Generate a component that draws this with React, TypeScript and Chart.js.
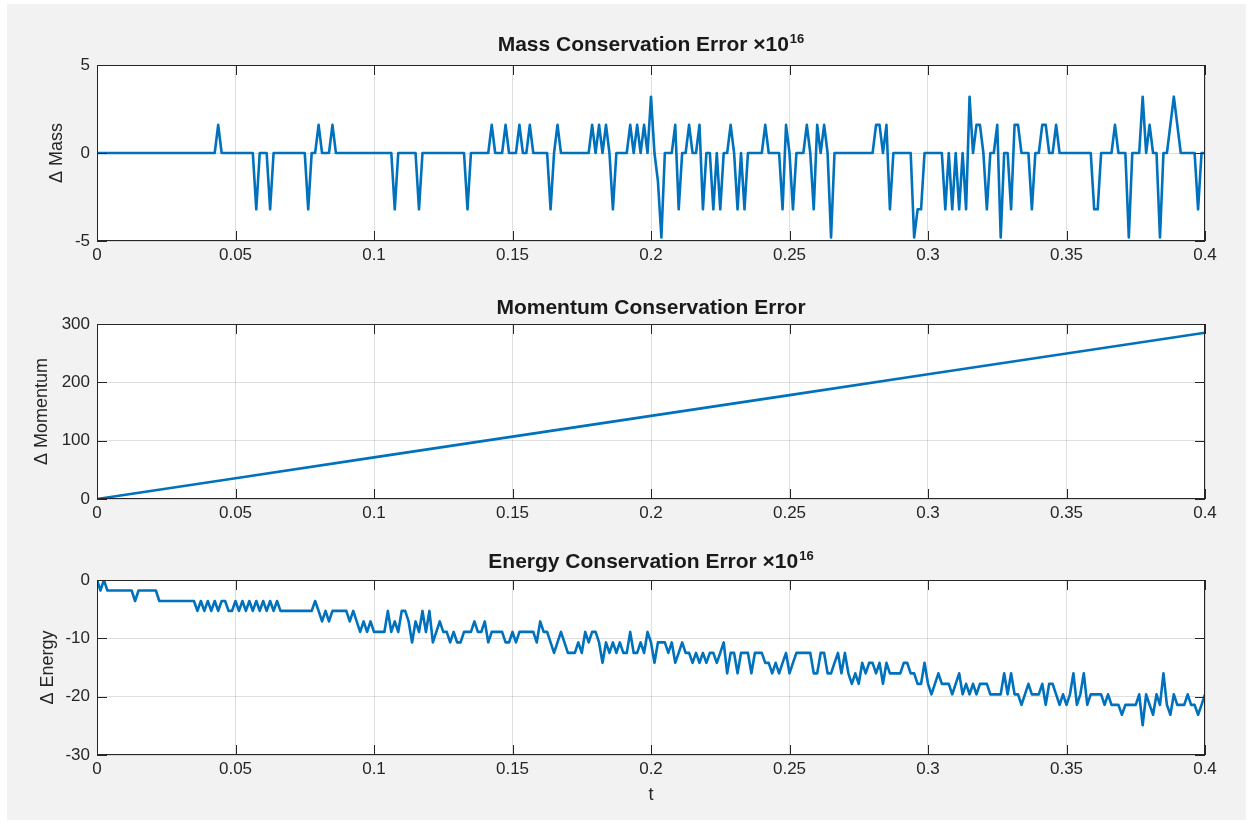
import React, { useEffect, useRef } from 'react';
import { Chart, registerables } from 'chart.js';

Chart.register(...registerables);

// ---------- data ----------
const timeStep = 0.00125; // sampling interval of the series (t = 0 … 0.4)

const massValues = [
  0, 0, 0, 0, 0, 0, 0, 0, 0, 0,
  0, 0, 0, 0, 0, 0, 0, 0, 0, 0,
  0, 0, 0, 0, 0, 0, 0, 0, 0, 0,
  0, 0, 0, 0, 0, 1.6, 0, 0, 0, 0,
  0, 0, 0, 0, 0, 0, -3.2, 0, 0, 0,
  -3.2, 0, 0, 0, 0, 0, 0, 0, 0, 0,
  0, -3.2, 0, 0, 1.6, 0, 0, 0, 1.6, 0,
  0, 0, 0, 0, 0, 0, 0, 0, 0, 0,
  0, 0, 0, 0, 0, 0, -3.2, 0, 0, 0,
  0, 0, 0, -3.2, 0, 0, 0, 0, 0, 0,
  0, 0, 0, 0, 0, 0, 0, -3.2, 0, 0,
  0, 0, 0, 0, 1.6, 0, 0, 0, 1.6, 0,
  0, 0, 1.6, 0, 0, 1.6, 0, 0, 0, 0,
  0, -3.2, 0, 1.6, 0, 0, 0, 0, 0, 0,
  0, 0, 0, 1.6, 0, 1.6, 0, 1.6, 0, -3.2,
  0, 0, 0, 0, 1.6, 0, 1.6, 0, 1.6, 0,
  3.2, 0, -1.6, -4.8, 0, 0, 0, 1.6, -3.2, 0,
  0, 1.6, 0, 0, 1.6, -3.2, 0, 0, -3.2, 0,
  -3.2, 0, 0, 1.6, 0, -3.2, 0, -3.2, 0, 0,
  0, 0, 0, 1.6, 0, 0, 0, 0, -3.2, 1.6,
  0, -3.2, 0, 0, 0, 1.6, 0, -3.2, 1.6, 0,
  1.6, 0, -4.8, 0, 0, 0, 0, 0, 0, 0,
  0, 0, 0, 0, 0, 1.6, 1.6, 0, 1.6, -3.2,
  0, 0, 0, 0, 0, 0, -4.8, -3.2, -3.2, 0,
  0, 0, 0, 0, 0, -3.2, 0, -3.2, 0, -3.2,
  0, -3.2, 3.2, 0, 1.6, 1.6, 0, -3.2, 0, 0,
  1.6, -4.8, 0, 0, -3.2, 1.6, 1.6, 0, 0, 0,
  -3.2, 0, 0, 1.6, 1.6, 0, 0, 1.6, 0, 0,
  0, 0, 0, 0, 0, 0, 0, 0, -3.2, -3.2,
  0, 0, 0, 0, 1.6, 0, 0, 0, -4.8, 0,
  0, 0, 3.2, 0, 1.6, 0, 0, -4.8, 0, 0,
  1.6, 3.2, 1.6, 0, 0, 0, 0, 0, -3.2, 0,
  0,
];

const momentumTimes = [0, 0.05, 0.1, 0.15, 0.2, 0.25, 0.3, 0.35, 0.4];
const momentumValues = [0, 35.6, 71.3, 106.9, 142.5, 178.1, 213.8, 249.4, 285];

const energyValues = [
  0, -1.8, 0, -1.8, -1.8, -1.8, -1.8, -1.8, -1.8, -1.8,
  -1.8, -3.6, -1.8, -1.8, -1.8, -1.8, -1.8, -1.8, -3.6, -3.6,
  -3.6, -3.6, -3.6, -3.6, -3.6, -3.6, -3.6, -3.6, -3.6, -5.3,
  -3.6, -5.3, -3.6, -5.3, -3.6, -5.3, -3.6, -3.6, -5.3, -5.3,
  -3.6, -5.3, -3.6, -5.3, -3.6, -5.3, -3.6, -5.3, -3.6, -5.3,
  -3.6, -5.3, -3.6, -5.3, -5.3, -5.3, -5.3, -5.3, -5.3, -5.3,
  -5.3, -5.3, -5.3, -3.6, -5.3, -7.1, -5.3, -7.1, -5.3, -5.3,
  -5.3, -5.3, -5.3, -7.1, -5.3, -7.1, -8.9, -7.1, -8.9, -7.1,
  -8.9, -8.9, -8.9, -8.9, -5.3, -8.9, -7.1, -8.9, -5.3, -5.3,
  -7.1, -10.7, -7.1, -8.9, -5.3, -8.9, -5.3, -10.7, -8.9, -7.1,
  -8.9, -8.9, -10.7, -8.9, -10.7, -10.7, -8.9, -8.9, -8.9, -7.1,
  -8.9, -8.9, -7.1, -10.7, -8.9, -8.9, -8.9, -8.9, -10.7, -10.7,
  -8.9, -10.7, -8.9, -8.9, -8.9, -8.9, -8.9, -10.7, -7.1, -8.9,
  -8.9, -10.7, -12.5, -10.7, -8.9, -10.7, -12.5, -12.5, -12.5, -10.7,
  -12.5, -8.9, -10.7, -8.9, -8.9, -10.7, -14.2, -10.7, -12.5, -10.7,
  -12.5, -10.7, -12.5, -12.5, -8.9, -12.5, -12.5, -10.7, -12.5, -8.9,
  -10.7, -14.2, -10.7, -10.7, -10.7, -12.5, -10.7, -14.2, -12.5, -10.7,
  -12.5, -12.5, -14.2, -12.5, -14.2, -12.5, -14.2, -12.5, -12.5, -14.2,
  -12.5, -10.7, -16, -12.5, -12.5, -16, -12.5, -12.5, -12.5, -16,
  -12.5, -12.5, -12.5, -14.2, -14.2, -16, -14.2, -16, -14.2, -12.5,
  -16, -14.2, -12.5, -12.5, -12.5, -12.5, -12.5, -16, -16, -12.5,
  -12.5, -16, -16, -14.2, -12.5, -16, -12.5, -16, -17.8, -16,
  -17.8, -14.2, -16, -14.2, -14.2, -16, -14.2, -17.8, -14.2, -16,
  -16, -16, -16, -14.2, -14.2, -16, -16, -17.8, -17.8, -14.2,
  -17.8, -19.6, -17.8, -16, -17.8, -17.8, -17.8, -19.6, -17.8, -16,
  -19.6, -17.8, -19.6, -17.8, -19.6, -17.8, -17.8, -17.8, -19.6, -19.6,
  -19.6, -19.6, -16, -19.6, -16, -19.6, -19.6, -21.4, -19.6, -17.8,
  -19.6, -19.6, -19.6, -17.8, -21.4, -17.8, -17.8, -19.6, -21.4, -19.6,
  -21.4, -19.6, -16, -21.4, -19.6, -16, -21.4, -19.6, -19.6, -19.6,
  -19.6, -21.4, -19.6, -21.4, -21.4, -21.4, -23.1, -21.4, -21.4, -21.4,
  -21.4, -19.6, -24.9, -19.6, -21.4, -23.1, -19.6, -21.4, -16, -21.4,
  -23.1, -19.6, -21.4, -21.4, -21.4, -19.6, -21.4, -21.4, -23.1, -21.4,
  -19.6,
];

const xTickValues = [0, 0.05, 0.1, 0.15, 0.2, 0.25, 0.3, 0.35, 0.4];
const xTickLabels = ['0', '0.05', '0.1', '0.15', '0.2', '0.25', '0.3', '0.35', '0.4'];
const massTickValues = [-5, 0, 5];
const massTickLabels = ['-5', '0', '5'];
const momentumTickValues = [0, 100, 200, 300];
const momentumTickLabels = ['0', '100', '200', '300'];
const energyTickValues = [-30, -20, -10, 0];
const energyTickLabels = ['-30', '-20', '-10', '0'];

// ---------- style ----------
const FONT = "'Liberation Sans', Arial, Helvetica, sans-serif";
const LINE_BLUE = '#0072BD';
const AXIS_COLOR = '#262626';
const GRID_COLOR = 'rgba(38,38,38,0.15)';
const PAGE_W = 1253;
const PLOT_RIGHT_PAD = 48;
const Y_AXIS_W = 97;
const TICK_LEN = 10;
const TICK_FONT_SIZE = 17;
const LABEL_FONT_SIZE = 18;

type PanelSpec = {
  title: string;
  titleSup?: string;
  titleY: number;
  yLabel: string;
  yLabelPad: number;
  points: { x: number; y: number }[];
  yMin: number;
  yMax: number;
  yTickValues: number[];
  yTickLabels: string[];
  canvasTop: number;
  canvasHeight: number;
  xAxisHeight: number;
  xLabel?: string;
};

const framePlugin = {
  id: 'matlabFrame',
  beforeDraw(chart: any) {
    const { ctx, chartArea } = chart;
    ctx.save();
    ctx.fillStyle = '#ffffff';
    ctx.fillRect(chartArea.left, chartArea.top, chartArea.right - chartArea.left, chartArea.bottom - chartArea.top);
    ctx.restore();
  },
  afterDraw(chart: any) {
    const { ctx, chartArea } = chart;
    const { left, right, top, bottom } = chartArea;
    const xs = chart.scales.x;
    const ys = chart.scales.y;
    ctx.save();
    ctx.strokeStyle = AXIS_COLOR;
    ctx.lineWidth = 1;
    ctx.beginPath();
    xs.ticks.forEach((t: any) => {
      const px = Math.round(xs.getPixelForValue(t.value)) + 0.5;
      ctx.moveTo(px, bottom);
      ctx.lineTo(px, bottom - TICK_LEN);
      ctx.moveTo(px, top);
      ctx.lineTo(px, top + TICK_LEN);
    });
    ys.ticks.forEach((t: any) => {
      const py = Math.round(ys.getPixelForValue(t.value)) + 0.5;
      ctx.moveTo(left, py);
      ctx.lineTo(left + TICK_LEN, py);
      ctx.moveTo(right, py);
      ctx.lineTo(right - TICK_LEN, py);
    });
    ctx.stroke();
    ctx.strokeRect(Math.round(left) + 0.5, Math.round(top) + 0.5, Math.round(right - left) - 1, Math.round(bottom - top) - 1);
    ctx.restore();

    // title with optional superscript
    const spec = chart.options.plugins.matlabFrame as { title: string; sup?: string; y: number };
    if (spec) {
      ctx.save();
      ctx.fillStyle = '#1a1a1a';
      ctx.textBaseline = 'middle';
      const mainFont = `bold 21px ${FONT}`;
      const supFont = `bold 13px ${FONT}`;
      ctx.font = mainFont;
      const mw = ctx.measureText(spec.title).width;
      ctx.font = supFont;
      const sw = spec.sup ? ctx.measureText(spec.sup).width + 1 : 0;
      const cx = (left + right) / 2;
      const x0 = cx - (mw + sw) / 2;
      ctx.font = mainFont;
      ctx.textAlign = 'left';
      ctx.fillText(spec.title, x0, spec.y);
      if (spec.sup) {
        ctx.font = supFont;
        ctx.fillText(spec.sup, x0 + mw + 1, spec.y - 6);
      }
      ctx.restore();
    }
  },
};

function Panel({ spec }: { spec: PanelSpec }) {
  const ref = useRef<HTMLCanvasElement | null>(null);
  useEffect(() => {
    if (!ref.current) return;
    const chart = new Chart(ref.current, {
      type: 'line',
      data: {
        datasets: [
          {
            data: spec.points,
            borderColor: LINE_BLUE,
            borderWidth: 2.6,
            pointRadius: 0,
            tension: 0,
            fill: false,
            borderJoinStyle: 'round',
          } as any,
        ],
      },
      options: {
        animation: false,
        responsive: false,
        maintainAspectRatio: false,
        layout: { padding: { left: 0, right: PLOT_RIGHT_PAD, top: 64, bottom: 0 } },
        plugins: {
          legend: { display: false },
          tooltip: { enabled: false },
          title: { display: false },
          matlabFrame: { title: spec.title, sup: spec.titleSup, y: spec.titleY },
        } as any,
        scales: {
          x: {
            type: 'linear',
            min: 0,
            max: 0.4,
            afterBuildTicks: (axis: any) => {
              axis.ticks = xTickValues.map((v) => ({ value: v }));
            },
            afterFit: (axis: any) => {
              axis.height = spec.xAxisHeight;
            },
            ticks: {
              callback: (_v: any, i: number) => xTickLabels[i],
              color: AXIS_COLOR,
              font: { family: FONT, size: TICK_FONT_SIZE },
              padding: 4,
              maxRotation: 0,
              autoSkip: false,
            },
            grid: { color: GRID_COLOR, drawTicks: false, lineWidth: 1 },
            border: { display: false },
            title: spec.xLabel
              ? {
                  display: true,
                  text: spec.xLabel,
                  color: AXIS_COLOR,
                  font: { family: FONT, size: LABEL_FONT_SIZE },
                  padding: { top: 0, bottom: 10 },
                }
              : { display: false },
          },
          y: {
            type: 'linear',
            min: spec.yMin,
            max: spec.yMax,
            afterBuildTicks: (axis: any) => {
              axis.ticks = spec.yTickValues.map((v) => ({ value: v }));
            },
            afterFit: (axis: any) => {
              axis.width = Y_AXIS_W;
            },
            ticks: {
              callback: (_v: any, i: number) => spec.yTickLabels[i],
              color: AXIS_COLOR,
              font: { family: FONT, size: TICK_FONT_SIZE },
              padding: 7,
              autoSkip: false,
            },
            grid: { color: GRID_COLOR, drawTicks: false, lineWidth: 1 },
            border: { display: false },
            title: {
              display: true,
              text: spec.yLabel,
              color: AXIS_COLOR,
              font: { family: FONT, size: LABEL_FONT_SIZE },
              padding: { top: spec.yLabelPad, bottom: 0 },
            },
          },
        },
      } as any,
      plugins: [framePlugin as any],
    });
    return () => chart.destroy();
  }, [spec]);
  return (
    <canvas
      ref={ref}
      width={PAGE_W}
      height={spec.canvasHeight}
      style={{ position: 'absolute', left: 0, top: spec.canvasTop, width: PAGE_W, height: spec.canvasHeight }}
    />
  );
}

const panels: PanelSpec[] = [
  {
    title: 'Mass Conservation Error \u00d710',
    titleSup: '16',
    titleY: 44,
    yLabel: '\u0394 Mass',
    yLabelPad: 46,
    points: massValues.map((v, i) => ({ x: i * timeStep, y: v })),
    yMin: -5,
    yMax: 5,
    yTickValues: massTickValues,
    yTickLabels: massTickLabels,
    canvasTop: 1,
    canvasHeight: 290,
    xAxisHeight: 50,
  },
  {
    title: 'Momentum Conservation Error',
    titleY: 48,
    yLabel: '\u0394 Momentum',
    yLabelPad: 31,
    points: momentumValues.map((v, i) => ({ x: momentumTimes[i], y: v })),
    yMin: 0,
    yMax: 300,
    yTickValues: momentumTickValues,
    yTickLabels: momentumTickLabels,
    canvasTop: 260,
    canvasHeight: 290,
    xAxisHeight: 51,
  },
  {
    title: 'Energy Conservation Error \u00d710',
    titleSup: '16',
    titleY: 46,
    yLabel: '\u0394 Energy',
    yLabelPad: 37,
    points: energyValues.map((v, i) => ({ x: i * timeStep, y: v })),
    yMin: -30,
    yMax: 0,
    yTickValues: energyTickValues,
    yTickLabels: energyTickLabels,
    canvasTop: 516,
    canvasHeight: 300,
    xAxisHeight: 61,
    xLabel: 't',
  },
];

export default function App() {
  return (
    <div style={{ position: 'absolute', left: 0, top: 0, width: PAGE_W, height: 824, background: '#ffffff', overflow: 'hidden' }}>
      <div style={{ position: 'absolute', left: 7, top: 4, width: 1239, height: 816, background: '#f2f2f2' }} />
      {panels.map((p, i) => (
        <Panel key={i} spec={p} />
      ))}
    </div>
  );
}
